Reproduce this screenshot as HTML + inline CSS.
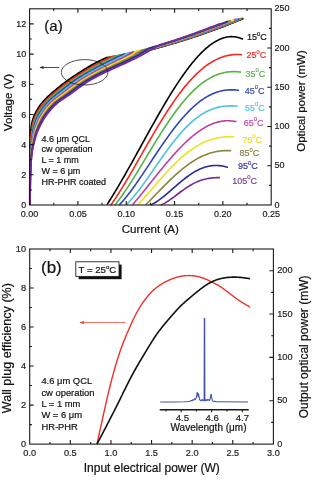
<!DOCTYPE html>
<html><head><meta charset="utf-8"><style>
html,body{margin:0;padding:0;background:#fff;width:320px;height:482px;overflow:hidden}
svg{display:block;position:absolute;left:0;top:0;will-change:transform}
text{font-family:"Liberation Sans",sans-serif}
</style></head><body>
<svg width="320" height="482" viewBox="0 0 320 482">
<rect width="320" height="482" fill="#fff"/>
<g font-size="9" fill="#222" stroke="#222" stroke-width="0.2">
<text x="29.6" y="216.8" text-anchor="middle">0.00</text>
<text x="77.92" y="216.8" text-anchor="middle">0.05</text>
<text x="126.24" y="216.8" text-anchor="middle">0.10</text>
<text x="174.56" y="216.8" text-anchor="middle">0.15</text>
<text x="222.88" y="216.8" text-anchor="middle">0.20</text>
<text x="271.2" y="216.8" text-anchor="middle">0.25</text>
<text x="26.2" y="208.2" text-anchor="end">0</text>
<text x="26.2" y="178.02" text-anchor="end">2</text>
<text x="26.2" y="147.83" text-anchor="end">4</text>
<text x="26.2" y="117.65" text-anchor="end">6</text>
<text x="26.2" y="87.46" text-anchor="end">8</text>
<text x="26.2" y="57.28" text-anchor="end">10</text>
<text x="26.2" y="27.09" text-anchor="end">12</text>
<text x="274.6" y="207.6">0</text>
<text x="274.6" y="168.36">50</text>
<text x="274.6" y="129.12">100</text>
<text x="274.6" y="89.88">150</text>
<text x="274.6" y="50.64">200</text>
<text x="274.6" y="11.4">250</text>
</g>
<text x="150.3" y="233" font-size="11.6" text-anchor="middle" fill="#111" stroke="#111" stroke-width="0.2">Current (A)</text>
<text transform="translate(12.2,102.5) rotate(-90)" font-size="11.6" text-anchor="middle" fill="#111" stroke="#111" stroke-width="0.2">Voltage (V)</text>
<text transform="translate(305.2,101) rotate(-90)" font-size="11.5" text-anchor="middle" fill="#111" stroke="#111" stroke-width="0.2">Optical power (mW)</text>
<text x="44.3" y="31.2" font-size="15" fill="#111" stroke="#111" stroke-width="0.2">(a)</text>
<text x="41.4" y="141.5" font-size="9" fill="#111" stroke="#111" stroke-width="0.2">4.6 μm QCL</text>
<text x="41.4" y="152.35" font-size="9" fill="#111" stroke="#111" stroke-width="0.2">cw operation</text>
<text x="41.4" y="163.2" font-size="9" fill="#111" stroke="#111" stroke-width="0.2">L = 1 mm</text>
<text x="41.4" y="174.05" font-size="9" fill="#111" stroke="#111" stroke-width="0.2">W = 6 μm</text>
<text x="41.4" y="184.9" font-size="9" fill="#111" stroke="#111" stroke-width="0.2">HR-PHR coated</text>
<g fill="none" stroke-width="1.9" stroke-linejoin="round" stroke-linecap="butt">
<path stroke="#000000" d="M29.9,205 L29.9,203.83 L29.9,202.66 L29.9,201.49 L29.89,200.32 L29.89,199.15 L29.89,197.98 L29.89,196.82 L29.89,195.65 L29.89,194.48 L29.89,193.31 L29.89,192.14 L29.89,190.97 L29.89,189.8 L29.89,188.63 L29.89,187.46 L29.89,186.29 L29.89,185.12 L29.9,183.95 L29.9,182.78 L29.9,181.61 L29.9,180.45 L29.91,179.28 L29.91,178.11 L29.92,176.94 L29.92,175.77 L29.93,174.6 L29.93,173.43 L29.94,172.26 L29.95,171.09 L29.96,169.92 L29.97,168.75 L29.98,167.58 L29.99,166.41 L30,165.24 L30.01,164.08 L30.02,162.91 L30.04,161.74 L30.05,160.57 L30.06,159.4 L30.08,158.23 L30.1,157.06 L30.11,155.89 L30.13,154.72 L30.15,153.55 L30.17,152.38 L30.19,151.21 L30.21,150.04 L30.23,148.88 L30.25,147.71 L30.27,146.54 L30.29,145.37 L30.31,144.2 L30.34,143.03 L30.36,141.86 L30.39,140.69 L30.42,139.52 L30.46,138.35 L30.5,137.18 L30.55,136.01 L30.61,134.84 L30.68,133.67 L30.76,132.51 L30.85,131.34 L30.95,130.17 L31.06,129 L31.2,127.83 L31.35,126.66 L31.53,125.49 L31.74,124.32 L31.98,123.15 L32.25,121.98 L32.55,120.81 L32.89,119.64 L33.26,118.47 L33.68,117.31 L34.13,116.14 L34.62,114.97 L35.16,113.8 L35.73,112.63 L36.35,111.46 L37,110.29 L37.7,109.12 L38.44,107.95 L39.22,106.78 L40.04,105.61 L40.91,104.44 L41.81,103.27 L42.77,102.1 L43.77,100.94 L44.83,99.77 L45.95,98.6 L47.13,97.43 L48.36,96.26 L49.65,95.09 L50.97,93.92 L52.32,92.75 L53.7,91.58 L55.09,90.41 L56.49,89.24 L57.91,88.07 L59.34,86.9 L60.8,85.73 L62.27,84.57 L63.78,83.4 L65.33,82.23 L66.93,81.06 L68.57,79.89 L70.26,78.72 L71.97,77.55 L73.72,76.38 L75.49,75.21 L77.27,74.04 L79.06,72.87 L80.87,71.7 L82.69,70.53 L84.55,69.37 L86.45,68.2 L88.4,67.03 L90.42,65.86 L92.51,64.69 L94.67,63.52 L96.9,62.35 L99.18,61.18 L101.52,60.01 L103.9,58.84 L106.33,57.81 L109.13,57.4 L111.93,56.98 L114.72,56.55 L117.52,56.1 L120.32,55.64 L123.12,55.17 L125.92,54.69 L128.72,54.19 L131.52,53.68 L134.32,53.16 L137.12,52.63 L139.92,52.08 L142.72,51.53 L145.52,50.93 L148.32,50.23 L151.12,49.52 L153.92,48.79 L156.72,48.05 L159.52,47.29 L162.32,46.52 L165.12,45.74 L167.91,44.95 L170.71,44.14 L173.51,43.32 L176.31,42.49 L179.11,41.64 L181.91,40.78 L184.71,39.91 L187.51,39.02 L190.31,38.12 L193.11,37.21 L195.91,36.28 L198.71,35.34 L201.51,34.39 L204.31,33.42 L207.11,32.43 L209.91,31.44 L212.71,30.43 L215.51,29.4 L218.3,28.36 L221.1,27.31 L223.9,26.25 L226.7,25.16 L229.5,24.07 L232.3,22.96 L235.1,21.84 L237.9,20.7 L240.7,19.55 L243.5,18.38"/>
<path stroke="#f8281e" d="M29.91,205 L29.91,203.83 L29.91,202.66 L29.91,201.49 L29.91,200.32 L29.91,199.15 L29.91,197.98 L29.91,196.82 L29.91,195.65 L29.91,194.48 L29.91,193.31 L29.91,192.14 L29.92,190.97 L29.92,189.8 L29.92,188.63 L29.92,187.46 L29.92,186.29 L29.93,185.12 L29.93,183.95 L29.94,182.78 L29.94,181.61 L29.95,180.45 L29.95,179.28 L29.96,178.11 L29.97,176.94 L29.98,175.77 L29.98,174.6 L29.99,173.43 L30,172.26 L30.02,171.09 L30.03,169.92 L30.04,168.75 L30.06,167.58 L30.07,166.41 L30.09,165.24 L30.11,164.08 L30.13,162.91 L30.15,161.74 L30.17,160.57 L30.2,159.4 L30.22,158.23 L30.25,157.06 L30.28,155.89 L30.31,154.72 L30.34,153.55 L30.37,152.38 L30.41,151.21 L30.45,150.04 L30.49,148.88 L30.54,147.71 L30.58,146.54 L30.63,145.37 L30.68,144.2 L30.74,143.03 L30.79,141.86 L30.85,140.69 L30.92,139.52 L30.98,138.35 L31.06,137.18 L31.14,136.01 L31.24,134.84 L31.34,133.67 L31.46,132.51 L31.58,131.34 L31.73,130.17 L31.89,129 L32.07,127.83 L32.27,126.66 L32.5,125.49 L32.75,124.32 L33.03,123.15 L33.34,121.98 L33.68,120.81 L34.05,119.64 L34.46,118.47 L34.92,117.31 L35.41,116.14 L35.94,114.97 L36.51,113.8 L37.12,112.63 L37.78,111.46 L38.47,110.29 L39.2,109.12 L39.97,107.95 L40.79,106.78 L41.65,105.61 L42.55,104.44 L43.51,103.27 L44.52,102.1 L45.58,100.94 L46.71,99.77 L47.89,98.6 L49.14,97.43 L50.43,96.26 L51.77,95.09 L53.13,93.92 L54.52,92.75 L55.91,91.58 L57.32,90.41 L58.75,89.24 L60.18,88.07 L61.64,86.9 L63.11,85.73 L64.6,84.57 L66.14,83.4 L67.71,82.23 L69.34,81.06 L71.01,79.89 L72.73,78.72 L74.49,77.55 L76.29,76.38 L78.11,75.21 L79.96,74.04 L81.82,72.87 L83.69,71.7 L85.59,70.53 L87.53,69.37 L89.51,68.2 L91.53,67.03 L93.61,65.86 L95.76,64.69 L97.97,63.52 L100.23,62.35 L102.54,61.18 L104.89,60.01 L107.28,58.84 L109.69,57.67 L112.12,56.73 L114.79,56.32 L117.45,55.89 L120.11,55.46 L122.77,55.01 L125.43,54.55 L128.09,54.08 L130.75,53.61 L133.41,53.11 L136.07,52.61 L138.73,52.1 L141.39,51.57 L144.05,51.04 L146.71,50.42 L149.37,49.74 L152.04,49.05 L154.7,48.35 L157.36,47.63 L160.02,46.9 L162.68,46.16 L165.34,45.41 L168,44.65 L170.66,43.87 L173.32,43.08 L175.98,42.28 L178.64,41.47 L181.3,40.65 L183.96,39.81 L186.62,38.96 L189.29,38.1 L191.95,37.23 L194.61,36.35 L197.27,35.45 L199.93,34.54 L202.59,33.62 L205.25,32.68 L207.91,31.74 L210.57,30.78 L213.23,29.82 L215.89,28.84 L218.55,27.85 L221.21,26.85 L223.87,25.84 L226.54,24.81 L229.2,23.77 L231.86,22.72 L234.52,21.65 L237.18,20.57 L239.84,19.48 L242.5,18.38"/>
<path stroke="#52b545" d="M29.92,205 L29.92,203.83 L29.92,202.66 L29.92,201.49 L29.93,200.32 L29.93,199.15 L29.93,197.98 L29.93,196.82 L29.93,195.65 L29.93,194.48 L29.94,193.31 L29.94,192.14 L29.94,190.97 L29.94,189.8 L29.95,188.63 L29.95,187.46 L29.96,186.29 L29.96,185.12 L29.97,183.95 L29.98,182.78 L29.98,181.61 L29.99,180.45 L30,179.28 L30.01,178.11 L30.02,176.94 L30.03,175.77 L30.04,174.6 L30.05,173.43 L30.07,172.26 L30.08,171.09 L30.1,169.92 L30.12,168.75 L30.14,167.58 L30.16,166.41 L30.18,165.24 L30.21,164.08 L30.24,162.91 L30.26,161.74 L30.29,160.57 L30.33,159.4 L30.36,158.23 L30.4,157.06 L30.44,155.89 L30.48,154.72 L30.53,153.55 L30.58,152.38 L30.63,151.21 L30.69,150.04 L30.76,148.88 L30.83,147.71 L30.9,146.54 L30.97,145.37 L31.05,144.2 L31.14,143.03 L31.22,141.86 L31.31,140.69 L31.41,139.52 L31.51,138.35 L31.62,137.18 L31.73,136.01 L31.86,134.84 L32,133.67 L32.15,132.51 L32.32,131.34 L32.51,130.17 L32.72,129 L32.95,127.83 L33.19,126.66 L33.46,125.49 L33.76,124.32 L34.08,123.15 L34.42,121.98 L34.8,120.81 L35.22,119.64 L35.67,118.47 L36.15,117.31 L36.68,116.14 L37.25,114.97 L37.87,113.8 L38.52,112.63 L39.21,111.46 L39.94,110.29 L40.7,109.12 L41.51,107.95 L42.36,106.78 L43.25,105.61 L44.2,104.44 L45.2,103.27 L46.27,102.1 L47.39,100.94 L48.59,99.77 L49.84,98.6 L51.15,97.43 L52.5,96.26 L53.89,95.09 L55.29,93.92 L56.71,92.75 L58.13,91.58 L59.56,90.41 L61,89.24 L62.46,88.07 L63.93,86.9 L65.42,85.73 L66.94,84.57 L68.49,83.4 L70.09,82.23 L71.74,81.06 L73.45,79.89 L75.21,78.72 L77.02,77.55 L78.86,76.38 L80.74,75.21 L82.64,74.04 L84.57,72.87 L86.52,71.7 L88.5,70.53 L90.51,69.37 L92.56,68.2 L94.66,67.03 L96.81,65.86 L99.01,64.69 L101.26,63.52 L103.56,62.35 L105.9,61.18 L108.26,60.01 L110.65,58.84 L113.06,57.67 L115.47,56.5 L117.08,55.73 L119.61,55.32 L122.14,54.9 L124.68,54.46 L127.21,54.02 L129.74,53.57 L132.27,53.11 L134.81,52.63 L137.34,52.15 L139.87,51.65 L142.41,51.15 L144.94,50.63 L147.47,50 L150.01,49.36 L152.54,48.69 L155.07,48.01 L157.61,47.32 L160.14,46.61 L162.67,45.9 L165.21,45.18 L167.74,44.44 L170.27,43.7 L172.8,42.94 L175.34,42.17 L177.87,41.39 L180.4,40.61 L182.94,39.81 L185.47,38.99 L188,38.17 L190.54,37.34 L193.07,36.5 L195.6,35.64 L198.14,34.77 L200.67,33.9 L203.2,33.01 L205.74,32.11 L208.27,31.19 L210.8,30.28 L213.34,29.36 L215.87,28.43 L218.4,27.49 L220.93,26.54 L223.47,25.57 L226,24.6 L228.53,23.61 L231.07,22.61 L233.6,21.6 L236.13,20.58 L238.67,19.54 L241.2,18.5"/>
<path stroke="#3146b2" d="M29.93,205 L29.94,203.83 L29.94,202.66 L29.94,201.49 L29.94,200.32 L29.94,199.15 L29.95,197.98 L29.95,196.82 L29.95,195.65 L29.96,194.48 L29.96,193.31 L29.96,192.14 L29.97,190.97 L29.97,189.8 L29.98,188.63 L29.98,187.46 L29.99,186.29 L30,185.12 L30.01,183.95 L30.01,182.78 L30.02,181.61 L30.03,180.45 L30.04,179.28 L30.06,178.11 L30.07,176.94 L30.08,175.77 L30.1,174.6 L30.11,173.43 L30.13,172.26 L30.15,171.09 L30.17,169.92 L30.2,168.75 L30.22,167.58 L30.25,166.41 L30.28,165.24 L30.31,164.08 L30.34,162.91 L30.38,161.74 L30.42,160.57 L30.46,159.4 L30.5,158.23 L30.55,157.06 L30.6,155.89 L30.66,154.72 L30.72,153.55 L30.79,152.38 L30.86,151.21 L30.94,150.04 L31.02,148.88 L31.12,147.71 L31.21,146.54 L31.32,145.37 L31.43,144.2 L31.54,143.03 L31.65,141.86 L31.78,140.69 L31.9,139.52 L32.03,138.35 L32.17,137.18 L32.32,136.01 L32.48,134.84 L32.66,133.67 L32.85,132.51 L33.06,131.34 L33.29,130.17 L33.55,129 L33.82,127.83 L34.11,126.66 L34.43,125.49 L34.77,124.32 L35.13,123.15 L35.51,121.98 L35.93,120.81 L36.38,119.64 L36.87,118.47 L37.39,117.31 L37.96,116.14 L38.57,114.97 L39.22,113.8 L39.91,112.63 L40.64,111.46 L41.4,110.29 L42.2,109.12 L43.04,107.95 L43.93,106.78 L44.86,105.61 L45.85,104.44 L46.9,103.27 L48.01,102.1 L49.21,100.94 L50.47,99.77 L51.79,98.6 L53.16,97.43 L54.57,96.26 L56.01,95.09 L57.45,93.92 L58.9,92.75 L60.35,91.58 L61.8,90.41 L63.26,89.24 L64.73,88.07 L66.22,86.9 L67.73,85.73 L69.27,84.57 L70.85,83.4 L72.47,82.23 L74.15,81.06 L75.89,79.89 L77.69,78.72 L79.54,77.55 L81.43,76.38 L83.36,75.21 L85.33,74.04 L87.32,72.87 L89.34,71.7 L91.4,70.53 L93.49,69.37 L95.62,68.2 L97.79,67.03 L100,65.86 L102.26,64.69 L104.56,63.52 L106.9,62.35 L109.26,61.18 L111.64,60.01 L114.03,58.84 L116.42,57.67 L118.81,56.5 L121.19,55.33 L122.17,54.67 L124.55,54.27 L126.93,53.85 L129.32,53.42 L131.7,52.99 L134.09,52.55 L136.47,52.1 L138.86,51.63 L141.24,51.16 L143.62,50.68 L146.01,50.15 L148.39,49.55 L150.78,48.94 L153.16,48.29 L155.55,47.64 L157.93,46.98 L160.32,46.31 L162.7,45.63 L165.08,44.94 L167.47,44.24 L169.85,43.53 L172.24,42.82 L174.62,42.09 L177.01,41.35 L179.39,40.61 L181.77,39.85 L184.16,39.08 L186.54,38.31 L188.93,37.52 L191.31,36.72 L193.7,35.92 L196.08,35.1 L198.47,34.28 L200.85,33.44 L203.23,32.6 L205.62,31.74 L208,30.88 L210.39,30.01 L212.77,29.14 L215.16,28.27 L217.54,27.39 L219.92,26.5 L222.31,25.59 L224.69,24.68 L227.08,23.76 L229.46,22.82 L231.85,21.88 L234.23,20.93 L236.62,19.96 L239,18.99"/>
<path stroke="#4cc2de" d="M29.94,205 L29.95,203.83 L29.95,202.66 L29.95,201.49 L29.96,200.32 L29.96,199.15 L29.96,197.98 L29.97,196.82 L29.97,195.65 L29.98,194.48 L29.98,193.31 L29.99,192.14 L29.99,190.97 L30,189.8 L30.01,188.63 L30.01,187.46 L30.02,186.29 L30.03,185.12 L30.04,183.95 L30.05,182.78 L30.06,181.61 L30.08,180.45 L30.09,179.28 L30.1,178.11 L30.12,176.94 L30.14,175.77 L30.15,174.6 L30.17,173.43 L30.19,172.26 L30.22,171.09 L30.24,169.92 L30.27,168.75 L30.3,167.58 L30.33,166.41 L30.37,165.24 L30.41,164.08 L30.45,162.91 L30.49,161.74 L30.54,160.57 L30.59,159.4 L30.64,158.23 L30.7,157.06 L30.77,155.89 L30.83,154.72 L30.91,153.55 L30.99,152.38 L31.08,151.21 L31.18,150.04 L31.29,148.88 L31.41,147.71 L31.53,146.54 L31.66,145.37 L31.8,144.2 L31.94,143.03 L32.08,141.86 L32.24,140.69 L32.39,139.52 L32.56,138.35 L32.73,137.18 L32.91,136.01 L33.1,134.84 L33.32,133.67 L33.55,132.51 L33.8,131.34 L34.08,130.17 L34.37,129 L34.69,127.83 L35.03,126.66 L35.39,125.49 L35.77,124.32 L36.17,123.15 L36.6,121.98 L37.06,120.81 L37.55,119.64 L38.07,118.47 L38.63,117.31 L39.24,116.14 L39.89,114.97 L40.57,113.8 L41.3,112.63 L42.07,111.46 L42.87,110.29 L43.7,109.12 L44.57,107.95 L45.49,106.78 L46.47,105.61 L47.5,104.44 L48.59,103.27 L49.76,102.1 L51.02,100.94 L52.34,99.77 L53.73,98.6 L55.17,97.43 L56.64,96.26 L58.13,95.09 L59.61,93.92 L61.09,92.75 L62.56,91.58 L64.04,90.41 L65.51,89.24 L67,88.07 L68.51,86.9 L70.04,85.73 L71.6,84.57 L73.2,83.4 L74.85,82.23 L76.56,81.06 L78.33,79.89 L80.17,78.72 L82.06,77.55 L84,76.38 L85.99,75.21 L88.02,74.04 L90.08,72.87 L92.17,71.7 L94.3,70.53 L96.47,69.37 L98.67,68.2 L100.92,67.03 L103.2,65.86 L105.51,64.69 L107.86,63.52 L110.23,62.35 L112.62,61.18 L115.01,60.01 L117.4,58.84 L119.79,57.67 L122.16,56.5 L124.5,55.33 L125.87,54.16 L126.49,53.71 L128.75,53.31 L131.02,52.9 L133.28,52.48 L135.55,52.05 L137.81,51.62 L140.08,51.17 L142.35,50.72 L144.61,50.26 L146.88,49.71 L149.14,49.14 L151.41,48.54 L153.67,47.92 L155.94,47.29 L158.2,46.66 L160.47,46.01 L162.74,45.36 L165,44.7 L167.27,44.02 L169.53,43.35 L171.8,42.66 L174.06,41.96 L176.33,41.25 L178.59,40.54 L180.86,39.82 L183.13,39.09 L185.39,38.34 L187.66,37.59 L189.92,36.84 L192.19,36.07 L194.45,35.29 L196.72,34.51 L198.99,33.71 L201.25,32.91 L203.52,32.1 L205.78,31.28 L208.05,30.45 L210.31,29.61 L212.58,28.79 L214.84,27.97 L217.11,27.13 L219.38,26.28 L221.64,25.43 L223.91,24.56 L226.17,23.69 L228.44,22.81 L230.7,21.92 L232.97,21.01 L235.23,20.1 L237.5,19.18"/>
<path stroke="#bb3ea6" d="M29.96,205 L29.96,203.83 L29.96,202.66 L29.97,201.49 L29.97,200.32 L29.98,199.15 L29.98,197.98 L29.99,196.82 L29.99,195.65 L30,194.48 L30.01,193.31 L30.01,192.14 L30.02,190.97 L30.03,189.8 L30.04,188.63 L30.05,187.46 L30.06,186.29 L30.07,185.12 L30.08,183.95 L30.09,182.78 L30.1,181.61 L30.12,180.45 L30.13,179.28 L30.15,178.11 L30.17,176.94 L30.19,175.77 L30.21,174.6 L30.23,173.43 L30.26,172.26 L30.29,171.09 L30.32,169.92 L30.35,168.75 L30.38,167.58 L30.42,166.41 L30.46,165.24 L30.51,164.08 L30.55,162.91 L30.61,161.74 L30.66,160.57 L30.72,159.4 L30.78,158.23 L30.85,157.06 L30.93,155.89 L31.01,154.72 L31.1,153.55 L31.2,152.38 L31.31,151.21 L31.43,150.04 L31.56,148.88 L31.7,147.71 L31.84,146.54 L32,145.37 L32.17,144.2 L32.34,143.03 L32.52,141.86 L32.7,140.69 L32.89,139.52 L33.08,138.35 L33.28,137.18 L33.5,136.01 L33.73,134.84 L33.98,133.67 L34.25,132.51 L34.54,131.34 L34.86,130.17 L35.2,129 L35.57,127.83 L35.95,126.66 L36.36,125.49 L36.78,124.32 L37.22,123.15 L37.69,121.98 L38.18,120.81 L38.71,119.64 L39.27,118.47 L39.87,117.31 L40.51,116.14 L41.2,114.97 L41.93,113.8 L42.69,112.63 L43.5,111.46 L44.33,110.29 L45.2,109.12 L46.11,107.95 L47.06,106.78 L48.07,105.61 L49.14,104.44 L50.29,103.27 L51.51,102.1 L52.83,100.94 L54.22,99.77 L55.68,98.6 L57.18,97.43 L58.71,96.26 L60.25,95.09 L61.77,93.92 L63.28,92.75 L64.78,91.58 L66.27,90.41 L67.77,89.24 L69.28,88.07 L70.8,86.9 L72.35,85.73 L73.93,84.57 L75.55,83.4 L77.23,82.23 L78.97,81.06 L80.77,79.89 L82.65,78.72 L84.58,77.55 L86.57,76.38 L88.61,75.21 L90.7,74.04 L92.83,72.87 L95,71.7 L97.2,70.53 L99.45,69.37 L101.73,68.2 L104.04,67.03 L106.39,65.86 L108.76,64.69 L111.16,63.52 L113.56,62.35 L115.97,61.18 L118.38,60.01 L120.78,58.84 L123.15,57.67 L125.5,56.5 L127.82,55.33 L129.33,54.16 L130.49,53 L130.87,52.7 L133.03,52.3 L135.19,51.9 L137.34,51.49 L139.5,51.07 L141.65,50.64 L143.81,50.21 L145.96,49.72 L148.12,49.18 L150.28,48.63 L152.43,48.03 L154.59,47.43 L156.74,46.83 L158.9,46.21 L161.05,45.59 L163.21,44.96 L165.36,44.32 L167.52,43.67 L169.68,43.02 L171.83,42.35 L173.99,41.68 L176.14,41.01 L178.3,40.32 L180.45,39.63 L182.61,38.92 L184.77,38.21 L186.92,37.5 L189.08,36.77 L191.23,36.04 L193.39,35.29 L195.54,34.54 L197.7,33.79 L199.85,33.02 L202.01,32.25 L204.17,31.46 L206.32,30.67 L208.48,29.87 L210.63,29.08 L212.79,28.3 L214.94,27.51 L217.1,26.71 L219.26,25.91 L221.41,25.1 L223.57,24.27 L225.72,23.44 L227.88,22.61 L230.03,21.76 L232.19,20.9 L234.34,20.04 L236.5,19.17"/>
<path stroke="#f0e01e" d="M29.97,205 L29.97,203.83 L29.98,202.66 L29.98,201.49 L29.99,200.32 L29.99,199.15 L30,197.98 L30.01,196.82 L30.01,195.65 L30.02,194.48 L30.03,193.31 L30.04,192.14 L30.05,190.97 L30.05,189.8 L30.07,188.63 L30.08,187.46 L30.09,186.29 L30.1,185.12 L30.11,183.95 L30.13,182.78 L30.14,181.61 L30.16,180.45 L30.18,179.28 L30.2,178.11 L30.22,176.94 L30.24,175.77 L30.27,174.6 L30.29,173.43 L30.32,172.26 L30.35,171.09 L30.39,169.92 L30.42,168.75 L30.46,167.58 L30.51,166.41 L30.56,165.24 L30.61,164.08 L30.66,162.91 L30.72,161.74 L30.78,160.57 L30.85,159.4 L30.93,158.23 L31,157.06 L31.09,155.89 L31.19,154.72 L31.29,153.55 L31.41,152.38 L31.53,151.21 L31.67,150.04 L31.82,148.88 L31.99,147.71 L32.16,146.54 L32.34,145.37 L32.54,144.2 L32.74,143.03 L32.95,141.86 L33.16,140.69 L33.38,139.52 L33.6,138.35 L33.84,137.18 L34.09,136.01 L34.35,134.84 L34.64,133.67 L34.94,132.51 L35.28,131.34 L35.64,130.17 L36.03,129 L36.44,127.83 L36.87,126.66 L37.32,125.49 L37.79,124.32 L38.27,123.15 L38.78,121.98 L39.31,120.81 L39.87,119.64 L40.47,118.47 L41.11,117.31 L41.79,116.14 L42.52,114.97 L43.28,113.8 L44.09,112.63 L44.93,111.46 L45.8,110.29 L46.7,109.12 L47.64,107.95 L48.63,106.78 L49.68,105.61 L50.79,104.44 L51.98,103.27 L53.26,102.1 L54.64,100.94 L56.1,99.77 L57.62,98.6 L59.19,97.43 L60.78,96.26 L62.37,95.09 L63.93,93.92 L65.47,92.75 L67,91.58 L68.51,90.41 L70.03,89.24 L71.55,88.07 L73.09,86.9 L74.66,85.73 L76.26,84.57 L77.91,83.4 L79.61,82.23 L81.38,81.06 L83.21,79.89 L85.12,78.72 L87.1,77.55 L89.14,76.38 L91.24,75.21 L93.39,74.04 L95.58,72.87 L97.82,71.7 L100.11,70.53 L102.43,69.37 L104.78,68.2 L107.17,67.03 L109.58,65.86 L112.01,64.69 L114.45,63.52 L116.9,62.35 L119.33,61.18 L121.75,60.01 L124.15,58.84 L126.52,57.67 L128.85,56.5 L131.13,55.33 L132.8,54.16 L134.19,53 L135.56,51.83 L136.02,51.52 L138.02,51.14 L140.02,50.75 L142.02,50.35 L144.02,49.94 L146.01,49.49 L148.01,48.99 L150.01,48.48 L152.01,47.92 L154.01,47.36 L156.01,46.79 L158.01,46.22 L160.01,45.64 L162.01,45.05 L164.01,44.45 L166.01,43.85 L168.01,43.24 L170.01,42.63 L172.01,42.01 L174.01,41.38 L176.01,40.74 L178.01,40.1 L180.01,39.45 L182.01,38.79 L184.01,38.13 L186.01,37.46 L188.01,36.78 L190.01,36.1 L192.01,35.41 L194.01,34.71 L196.01,34.01 L198.01,33.3 L200.01,32.58 L202.01,31.85 L204.01,31.12 L206,30.38 L208,29.64 L210,28.88 L212,28.16 L214,27.43 L216,26.7 L218,25.96 L220,25.21 L222,24.45 L224,23.69 L226,22.92 L228,22.14 L230,21.35 L232,20.56 L234,19.76"/>
<path stroke="#86863c" d="M29.98,205 L29.98,203.83 L29.99,202.66 L30,201.49 L30,200.32 L30.01,199.15 L30.02,197.98 L30.03,196.82 L30.03,195.65 L30.04,194.48 L30.05,193.31 L30.06,192.14 L30.07,190.97 L30.08,189.8 L30.09,188.63 L30.11,187.46 L30.12,186.29 L30.14,185.12 L30.15,183.95 L30.17,182.78 L30.19,181.61 L30.2,180.45 L30.22,179.28 L30.25,178.11 L30.27,176.94 L30.29,175.77 L30.32,174.6 L30.35,173.43 L30.38,172.26 L30.42,171.09 L30.46,169.92 L30.5,168.75 L30.55,167.58 L30.59,166.41 L30.65,165.24 L30.71,164.08 L30.77,162.91 L30.83,161.74 L30.91,160.57 L30.98,159.4 L31.07,158.23 L31.16,157.06 L31.25,155.89 L31.36,154.72 L31.48,153.55 L31.61,152.38 L31.76,151.21 L31.91,150.04 L32.09,148.88 L32.28,147.71 L32.48,146.54 L32.69,145.37 L32.91,144.2 L33.14,143.03 L33.38,141.86 L33.62,140.69 L33.87,139.52 L34.13,138.35 L34.39,137.18 L34.67,136.01 L34.97,134.84 L35.29,133.67 L35.64,132.51 L36.02,131.34 L36.43,130.17 L36.86,129 L37.32,127.83 L37.79,126.66 L38.29,125.49 L38.8,124.32 L39.32,123.15 L39.87,121.98 L40.44,120.81 L41.04,119.64 L41.67,118.47 L42.35,117.31 L43.07,116.14 L43.83,114.97 L44.64,113.8 L45.48,112.63 L46.35,111.46 L47.26,110.29 L48.2,109.12 L49.18,107.95 L50.2,106.78 L51.28,105.61 L52.44,104.44 L53.68,103.27 L55.01,102.1 L56.45,100.94 L57.98,99.77 L59.57,98.6 L61.2,97.43 L62.85,96.26 L64.49,95.09 L66.09,93.92 L67.66,92.75 L69.21,91.58 L70.75,90.41 L72.28,89.24 L73.82,88.07 L75.38,86.9 L76.97,85.73 L78.59,84.57 L80.26,83.4 L81.99,82.23 L83.79,81.06 L85.65,79.89 L87.6,78.72 L89.62,77.55 L91.71,76.38 L93.86,75.21 L96.07,74.04 L98.34,72.87 L100.65,71.7 L103.01,70.53 L105.41,69.37 L107.84,68.2 L110.3,67.03 L112.78,65.86 L115.26,64.69 L117.75,63.52 L120.23,62.35 L122.69,61.18 L125.13,60.01 L127.53,58.84 L129.88,57.67 L132.19,56.5 L134.44,55.33 L136.27,54.16 L137.89,53 L139.49,51.83 L141.08,50.66 L142.14,50.1 L143.95,49.74 L145.76,49.33 L147.58,48.88 L149.39,48.42 L151.2,47.93 L153.02,47.41 L154.83,46.89 L156.64,46.37 L158.46,45.84 L160.27,45.31 L162.08,44.77 L163.9,44.22 L165.71,43.67 L167.53,43.11 L169.34,42.55 L171.15,41.98 L172.97,41.41 L174.78,40.83 L176.59,40.25 L178.41,39.66 L180.22,39.06 L182.03,38.46 L183.85,37.85 L185.66,37.24 L187.47,36.62 L189.29,36 L191.1,35.37 L192.92,34.73 L194.73,34.09 L196.54,33.44 L198.36,32.79 L200.17,32.13 L201.98,31.47 L203.8,30.8 L205.61,30.12 L207.42,29.44 L209.24,28.75 L211.05,28.09 L212.86,27.43 L214.68,26.77 L216.49,26.1 L218.31,25.42 L220.12,24.74 L221.93,24.06 L223.75,23.37 L225.56,22.67 L227.37,21.96 L229.19,21.25 L231,20.54"/>
<path stroke="#2c2c98" d="M29.99,205 L30,203.83 L30,202.66 L30.01,201.49 L30.02,200.32 L30.03,199.15 L30.04,197.98 L30.04,196.82 L30.05,195.65 L30.06,194.48 L30.07,193.31 L30.09,192.14 L30.1,190.97 L30.11,189.8 L30.12,188.63 L30.14,187.46 L30.15,186.29 L30.17,185.12 L30.19,183.95 L30.21,182.78 L30.23,181.61 L30.25,180.45 L30.27,179.28 L30.29,178.11 L30.32,176.94 L30.35,175.77 L30.38,174.6 L30.41,173.43 L30.45,172.26 L30.49,171.09 L30.53,169.92 L30.58,168.75 L30.63,167.58 L30.68,166.41 L30.74,165.24 L30.8,164.08 L30.87,162.91 L30.95,161.74 L31.03,160.57 L31.11,159.4 L31.21,158.23 L31.31,157.06 L31.42,155.89 L31.54,154.72 L31.67,153.55 L31.82,152.38 L31.98,151.21 L32.16,150.04 L32.35,148.88 L32.56,147.71 L32.79,146.54 L33.03,145.37 L33.28,144.2 L33.54,143.03 L33.81,141.86 L34.08,140.69 L34.36,139.52 L34.65,138.35 L34.95,137.18 L35.26,136.01 L35.6,134.84 L35.95,133.67 L36.34,132.51 L36.76,131.34 L37.21,130.17 L37.69,129 L38.19,127.83 L38.71,126.66 L39.25,125.49 L39.81,124.32 L40.37,123.15 L40.96,121.98 L41.56,120.81 L42.2,119.64 L42.88,118.47 L43.59,117.31 L44.35,116.14 L45.15,114.97 L45.99,113.8 L46.87,112.63 L47.78,111.46 L48.73,110.29 L49.7,109.12 L50.71,107.95 L51.77,106.78 L52.89,105.61 L54.09,104.44 L55.37,103.27 L56.76,102.1 L58.26,100.94 L59.86,99.77 L61.52,98.6 L63.21,97.43 L64.92,96.26 L66.61,95.09 L68.25,93.92 L69.86,92.75 L71.43,91.58 L72.99,90.41 L74.54,89.24 L76.1,88.07 L77.67,86.9 L79.28,85.73 L80.92,84.57 L82.62,83.4 L84.37,82.23 L86.19,81.06 L88.1,79.89 L90.08,78.72 L92.14,77.55 L94.28,76.38 L96.49,75.21 L98.76,74.04 L101.09,72.87 L103.48,71.7 L105.91,70.53 L108.39,69.37 L110.9,68.2 L113.43,67.03 L115.97,65.86 L118.51,64.69 L121.05,63.52 L123.56,62.35 L126.05,61.18 L128.5,60.01 L130.9,58.84 L133.25,57.67 L135.53,56.5 L137.76,55.33 L139.73,54.16 L141.59,53 L143.42,51.83 L145.23,50.66 L147.05,49.49 L148.87,48.33 L150.49,47.9 L152.1,47.44 L153.72,46.98 L155.33,46.51 L156.95,46.04 L158.56,45.56 L160.18,45.08 L161.79,44.59 L163.41,44.1 L165.02,43.61 L166.64,43.11 L168.25,42.61 L169.87,42.1 L171.48,41.59 L173.1,41.07 L174.71,40.55 L176.33,40.02 L177.94,39.49 L179.55,38.96 L181.17,38.42 L182.78,37.88 L184.4,37.33 L186.01,36.78 L187.63,36.22 L189.24,35.66 L190.86,35.1 L192.47,34.53 L194.09,33.95 L195.7,33.37 L197.32,32.79 L198.93,32.2 L200.55,31.61 L202.16,31.01 L203.78,30.41 L205.39,29.8 L207.01,29.19 L208.62,28.57 L210.24,27.96 L211.85,27.38 L213.47,26.79 L215.08,26.2 L216.7,25.6 L218.31,25 L219.93,24.4 L221.54,23.79 L223.16,23.17 L224.77,22.55 L226.39,21.93 L228,21.3"/>
<path stroke="#7a2a98" d="M30,205 L30.01,203.83 L30.02,202.66 L30.03,201.49 L30.03,200.32 L30.04,199.15 L30.05,197.98 L30.06,196.82 L30.07,195.65 L30.09,194.48 L30.1,193.31 L30.11,192.14 L30.12,190.97 L30.14,189.8 L30.15,188.63 L30.17,187.46 L30.19,186.29 L30.2,185.12 L30.22,183.95 L30.24,182.78 L30.27,181.61 L30.29,180.45 L30.31,179.28 L30.34,178.11 L30.37,176.94 L30.4,175.77 L30.43,174.6 L30.47,173.43 L30.51,172.26 L30.55,171.09 L30.6,169.92 L30.65,168.75 L30.71,167.58 L30.77,166.41 L30.83,165.24 L30.9,164.08 L30.98,162.91 L31.06,161.74 L31.15,160.57 L31.25,159.4 L31.35,158.23 L31.46,157.06 L31.58,155.89 L31.72,154.72 L31.86,153.55 L32.03,152.38 L32.2,151.21 L32.4,150.04 L32.62,148.88 L32.85,147.71 L33.11,146.54 L33.37,145.37 L33.65,144.2 L33.94,143.03 L34.24,141.86 L34.55,140.69 L34.86,139.52 L35.18,138.35 L35.51,137.18 L35.85,136.01 L36.22,134.84 L36.61,133.67 L37.04,132.51 L37.5,131.34 L37.99,130.17 L38.51,129 L39.06,127.83 L39.63,126.66 L40.22,125.49 L40.81,124.32 L41.42,123.15 L42.04,121.98 L42.69,120.81 L43.37,119.64 L44.08,118.47 L44.83,117.31 L45.62,116.14 L46.46,114.97 L47.34,113.8 L48.26,112.63 L49.21,111.46 L50.19,110.29 L51.2,109.12 L52.24,107.95 L53.34,106.78 L54.49,105.61 L55.73,104.44 L57.07,103.27 L58.51,102.1 L60.07,100.94 L61.73,99.77 L63.46,98.6 L65.22,97.43 L66.99,96.26 L68.73,95.09 L70.41,93.92 L72.05,92.75 L73.65,91.58 L75.22,90.41 L76.79,89.24 L78.37,88.07 L79.96,86.9 L81.59,85.73 L83.25,84.57 L84.97,83.4 L86.75,82.23 L88.6,81.06 L90.54,79.89 L92.56,78.72 L94.66,77.55 L96.85,76.38 L99.11,75.21 L101.45,74.04 L103.84,72.87 L106.3,71.7 L108.81,70.53 L111.37,69.37 L113.95,68.2 L116.55,67.03 L119.16,65.86 L121.76,64.69 L124.35,63.52 L126.9,62.35 L129.41,61.18 L131.87,60.01 L134.28,58.84 L136.62,57.67 L138.88,56.5 L141.07,55.33 L143.2,54.16 L145.29,53 L147.34,51.83 L149.39,50.66 L151.43,49.49 L153.48,48.32 L155.57,47.15 L157.7,45.98 L159.92,44.9 L161.17,44.52 L162.42,44.14 L163.66,43.76 L164.91,43.37 L166.15,42.99 L167.4,42.59 L168.65,42.2 L169.89,41.8 L171.14,41.41 L172.39,41 L173.63,40.6 L174.88,40.19 L176.13,39.78 L177.37,39.37 L178.62,38.96 L179.87,38.54 L181.11,38.12 L182.36,37.69 L183.61,37.27 L184.85,36.84 L186.1,36.41 L187.34,35.98 L188.59,35.54 L189.84,35.1 L191.08,34.66 L192.33,34.22 L193.58,33.77 L194.82,33.32 L196.07,32.87 L197.32,32.41 L198.56,31.95 L199.81,31.49 L201.06,31.03 L202.3,30.56 L203.55,30.09 L204.8,29.62 L206.04,29.15 L207.29,28.67 L208.54,28.19 L209.78,27.71 L211.03,27.25 L212.27,26.8 L213.52,26.35 L214.77,25.89 L216.01,25.44 L217.26,24.97 L218.51,24.51 L219.75,24.04 L221,23.57"/>
</g>
<ellipse cx="84.6" cy="72.3" rx="23.3" ry="12.7" fill="none" stroke="#222" stroke-width="0.8"/>
<path d="M59.3,67.5 L42,67.5" stroke="#222" stroke-width="0.8"/>
<path d="M39.3,67.5 L43.5,65.9 L43.5,69.1 Z" fill="#222"/>
<g fill="none" stroke-width="1.6" stroke-linejoin="round">
<path stroke="#000000" d="M107,204.64 L108,203.09 L109,201.53 L110,199.95 L111,198.35 L112,196.74 L113,195.11 L114,193.48 L115,191.83 L116,190.16 L117,188.49 L118,186.8 L119,185.11 L120,183.4 L121,181.69 L122,179.96 L123,178.22 L124,176.48 L125,174.73 L126,172.97 L127,171.2 L128,169.43 L129,167.65 L130,165.87 L131,164.08 L132,162.29 L133,160.49 L134,158.68 L135,156.88 L136,155.07 L137,153.26 L138,151.45 L139,149.63 L140,147.82 L141,146 L142,144.19 L143,142.37 L144,140.56 L145,138.74 L146,136.93 L147,135.12 L148,133.32 L149,131.51 L150,129.71 L151,127.92 L152,126.12 L153,124.34 L154,122.56 L155,120.78 L156,119.01 L157,117.25 L158,115.5 L159,113.75 L160,112.01 L161,110.28 L162,108.56 L163,106.85 L164,105.14 L165,103.45 L166,101.77 L167,100.1 L168,98.44 L169,96.8 L170,95.16 L171,93.54 L172,91.94 L173,90.34 L174,88.76 L175,87.2 L176,85.65 L177,84.12 L178,82.6 L179,81.1 L180,79.62 L181,78.15 L182,76.71 L183,75.28 L184,73.87 L185,72.48 L186,71.1 L187,69.75 L188,68.42 L189,67.11 L190,65.82 L191,64.55 L192,63.31 L193,62.09 L194,60.89 L195,59.71 L196,58.56 L197,57.44 L198,56.33 L199,55.26 L200,54.2 L201,53.18 L202,52.18 L203,51.21 L204,50.26 L205,49.35 L206,48.46 L207,47.6 L208,46.77 L209,45.97 L210,45.2 L211,44.46 L212,43.75 L213,43.07 L214,42.42 L215,41.81 L216,41.22 L217,40.67 L218,40.16 L219,39.67 L220,39.23 L221,38.81 L222,38.43 L223,38.09 L224,37.78 L225,37.51 L226,37.27 L227,37.08 L228,36.92 L229,36.79 L230,36.71 L231,36.66 L232,36.66 L233,36.69 L234,36.76 L235,36.87 L236,37.03 L237,37.22 L238,37.46 L239,37.74 L240,38.06 L241,38.42 L242,38.83 L243,39.28"/>
<path stroke="#f8281e" d="M110.6,205.35 L111.6,203.94 L112.6,202.51 L113.6,201.05 L114.6,199.58 L115.6,198.08 L116.6,196.56 L117.6,195.02 L118.6,193.46 L119.6,191.88 L120.6,190.29 L121.6,188.68 L122.6,187.06 L123.6,185.42 L124.6,183.77 L125.6,182.11 L126.6,180.43 L127.6,178.75 L128.6,177.05 L129.6,175.35 L130.6,173.63 L131.6,171.91 L132.6,170.18 L133.6,168.45 L134.6,166.71 L135.6,164.96 L136.6,163.22 L137.6,161.47 L138.6,159.71 L139.6,157.96 L140.6,156.2 L141.6,154.45 L142.6,152.69 L143.6,150.94 L144.6,149.19 L145.6,147.44 L146.6,145.69 L147.6,143.95 L148.6,142.21 L149.6,140.48 L150.6,138.75 L151.6,137.03 L152.6,135.32 L153.6,133.61 L154.6,131.91 L155.6,130.22 L156.6,128.54 L157.6,126.87 L158.6,125.21 L159.6,123.56 L160.6,121.92 L161.6,120.29 L162.6,118.67 L163.6,117.07 L164.6,115.48 L165.6,113.91 L166.6,112.34 L167.6,110.8 L168.6,109.26 L169.6,107.75 L170.6,106.25 L171.6,104.76 L172.6,103.29 L173.6,101.84 L174.6,100.41 L175.6,98.99 L176.6,97.59 L177.6,96.22 L178.6,94.85 L179.6,93.51 L180.6,92.19 L181.6,90.89 L182.6,89.61 L183.6,88.34 L184.6,87.1 L185.6,85.88 L186.6,84.68 L187.6,83.5 L188.6,82.35 L189.6,81.21 L190.6,80.1 L191.6,79.01 L192.6,77.94 L193.6,76.9 L194.6,75.87 L195.6,74.87 L196.6,73.9 L197.6,72.94 L198.6,72.02 L199.6,71.11 L200.6,70.23 L201.6,69.37 L202.6,68.53 L203.6,67.72 L204.6,66.94 L205.6,66.18 L206.6,65.44 L207.6,64.72 L208.6,64.03 L209.6,63.37 L210.6,62.73 L211.6,62.11 L212.6,61.52 L213.6,60.95 L214.6,60.41 L215.6,59.89 L216.6,59.4 L217.6,58.93 L218.6,58.48 L219.6,58.06 L220.6,57.67 L221.6,57.29 L222.6,56.94 L223.6,56.62 L224.6,56.32 L225.6,56.04 L226.6,55.78 L227.6,55.55 L228.6,55.34 L229.6,55.16 L230.6,55 L231.6,54.86 L232.6,54.74 L233.6,54.65 L234.6,54.57 L235.6,54.52 L236.6,54.49 L237.6,54.48 L238.6,54.5 L239.6,54.53 L240.6,54.59 L241.6,54.66 L242,54.7"/>
<path stroke="#52b545" d="M114.8,205.14 L115.8,203.91 L116.8,202.65 L117.8,201.36 L118.8,200.04 L119.8,198.69 L120.8,197.32 L121.8,195.93 L122.8,194.51 L123.8,193.07 L124.8,191.61 L125.8,190.13 L126.8,188.64 L127.8,187.12 L128.8,185.59 L129.8,184.04 L130.8,182.48 L131.8,180.9 L132.8,179.31 L133.8,177.71 L134.8,176.1 L135.8,174.48 L136.8,172.85 L137.8,171.22 L138.8,169.57 L139.8,167.92 L140.8,166.27 L141.8,164.61 L142.8,162.95 L143.8,161.29 L144.8,159.63 L145.8,157.96 L146.8,156.3 L147.8,154.63 L148.8,152.97 L149.8,151.31 L150.8,149.65 L151.8,148 L152.8,146.36 L153.8,144.71 L154.8,143.08 L155.8,141.45 L156.8,139.83 L157.8,138.22 L158.8,136.62 L159.8,135.02 L160.8,133.44 L161.8,131.87 L162.8,130.31 L163.8,128.76 L164.8,127.22 L165.8,125.7 L166.8,124.19 L167.8,122.7 L168.8,121.22 L169.8,119.75 L170.8,118.31 L171.8,116.87 L172.8,115.46 L173.8,114.06 L174.8,112.68 L175.8,111.32 L176.8,109.98 L177.8,108.66 L178.8,107.35 L179.8,106.07 L180.8,104.8 L181.8,103.56 L182.8,102.34 L183.8,101.14 L184.8,99.96 L185.8,98.8 L186.8,97.66 L187.8,96.55 L188.8,95.46 L189.8,94.39 L190.8,93.35 L191.8,92.33 L192.8,91.33 L193.8,90.36 L194.8,89.41 L195.8,88.48 L196.8,87.58 L197.8,86.71 L198.8,85.85 L199.8,85.03 L200.8,84.23 L201.8,83.45 L202.8,82.7 L203.8,81.97 L204.8,81.27 L205.8,80.59 L206.8,79.94 L207.8,79.31 L208.8,78.71 L209.8,78.14 L210.8,77.59 L211.8,77.06 L212.8,76.56 L213.8,76.09 L214.8,75.63 L215.8,75.21 L216.8,74.81 L217.8,74.43 L218.8,74.08 L219.8,73.75 L220.8,73.45 L221.8,73.17 L222.8,72.92 L223.8,72.68 L224.8,72.48 L225.8,72.29 L226.8,72.13 L227.8,71.99 L228.8,71.87 L229.8,71.78 L230.8,71.71 L231.8,71.65 L232.8,71.62 L233.8,71.62 L234.8,71.63 L235.8,71.66 L236.8,71.71 L237.8,71.78 L238.8,71.87 L239.8,71.98 L240.8,72.11 L241,72.14"/>
<path stroke="#3146b2" d="M119.2,205.04 L120.2,203.98 L121.2,202.9 L122.2,201.78 L123.2,200.64 L124.2,199.46 L125.2,198.26 L126.2,197.04 L127.2,195.79 L128.2,194.51 L129.2,193.22 L130.2,191.9 L131.2,190.56 L132.2,189.21 L133.2,187.83 L134.2,186.44 L135.2,185.04 L136.2,183.62 L137.2,182.19 L138.2,180.74 L139.2,179.29 L140.2,177.82 L141.2,176.35 L142.2,174.86 L143.2,173.37 L144.2,171.88 L145.2,170.38 L146.2,168.87 L147.2,167.36 L148.2,165.85 L149.2,164.34 L150.2,162.82 L151.2,161.31 L152.2,159.8 L153.2,158.29 L154.2,156.78 L155.2,155.27 L156.2,153.77 L157.2,152.28 L158.2,150.79 L159.2,149.3 L160.2,147.83 L161.2,146.36 L162.2,144.9 L163.2,143.45 L164.2,142.01 L165.2,140.58 L166.2,139.16 L167.2,137.75 L168.2,136.36 L169.2,134.97 L170.2,133.61 L171.2,132.25 L172.2,130.91 L173.2,129.59 L174.2,128.28 L175.2,126.99 L176.2,125.72 L177.2,124.46 L178.2,123.22 L179.2,122 L180.2,120.8 L181.2,119.61 L182.2,118.45 L183.2,117.31 L184.2,116.18 L185.2,115.08 L186.2,114 L187.2,112.94 L188.2,111.9 L189.2,110.88 L190.2,109.88 L191.2,108.91 L192.2,107.96 L193.2,107.03 L194.2,106.13 L195.2,105.25 L196.2,104.39 L197.2,103.56 L198.2,102.75 L199.2,101.97 L200.2,101.21 L201.2,100.47 L202.2,99.76 L203.2,99.08 L204.2,98.41 L205.2,97.78 L206.2,97.17 L207.2,96.58 L208.2,96.02 L209.2,95.48 L210.2,94.97 L211.2,94.48 L212.2,94.02 L213.2,93.58 L214.2,93.17 L215.2,92.78 L216.2,92.42 L217.2,92.08 L218.2,91.76 L219.2,91.47 L220.2,91.21 L221.2,90.97 L222.2,90.75 L223.2,90.55 L224.2,90.38 L225.2,90.24 L226.2,90.11 L227.2,90.01 L228.2,89.93 L229.2,89.87 L230.2,89.84 L231.2,89.82 L232.2,89.83 L233.2,89.86 L234.2,89.91 L235.2,89.98 L236.2,90.07 L237.2,90.17 L238.2,90.3 L239,90.42"/>
<path stroke="#4cc2de" d="M125.8,204.99 L126.8,204.06 L127.8,203.08 L128.8,202.07 L129.8,201.02 L130.8,199.94 L131.8,198.83 L132.8,197.68 L133.8,196.51 L134.8,195.31 L135.8,194.08 L136.8,192.83 L137.8,191.56 L138.8,190.26 L139.8,188.95 L140.8,187.61 L141.8,186.26 L142.8,184.9 L143.8,183.52 L144.8,182.12 L145.8,180.72 L146.8,179.31 L147.8,177.88 L148.8,176.45 L149.8,175.02 L150.8,173.58 L151.8,172.13 L152.8,170.68 L153.8,169.23 L154.8,167.78 L155.8,166.33 L156.8,164.89 L157.8,163.44 L158.8,162 L159.8,160.56 L160.8,159.13 L161.8,157.71 L162.8,156.29 L163.8,154.88 L164.8,153.49 L165.8,152.1 L166.8,150.72 L167.8,149.36 L168.8,148.01 L169.8,146.67 L170.8,145.34 L171.8,144.03 L172.8,142.74 L173.8,141.46 L174.8,140.2 L175.8,138.96 L176.8,137.74 L177.8,136.53 L178.8,135.35 L179.8,134.18 L180.8,133.03 L181.8,131.91 L182.8,130.81 L183.8,129.72 L184.8,128.66 L185.8,127.63 L186.8,126.61 L187.8,125.62 L188.8,124.65 L189.8,123.71 L190.8,122.79 L191.8,121.9 L192.8,121.02 L193.8,120.18 L194.8,119.36 L195.8,118.56 L196.8,117.79 L197.8,117.05 L198.8,116.33 L199.8,115.63 L200.8,114.96 L201.8,114.32 L202.8,113.7 L203.8,113.11 L204.8,112.54 L205.8,112 L206.8,111.48 L207.8,110.99 L208.8,110.52 L209.8,110.08 L210.8,109.66 L211.8,109.26 L212.8,108.89 L213.8,108.55 L214.8,108.22 L215.8,107.92 L216.8,107.64 L217.8,107.39 L218.8,107.15 L219.8,106.94 L220.8,106.75 L221.8,106.58 L222.8,106.43 L223.8,106.3 L224.8,106.18 L225.8,106.09 L226.8,106.01 L227.8,105.95 L228.8,105.91 L229.8,105.89 L230.8,105.87 L231.8,105.88 L232.8,105.89 L233.8,105.92 L234.8,105.96 L235.8,106.02 L236.8,106.08 L237.5,106.13"/>
<path stroke="#bb3ea6" d="M132.5,204.79 L133.5,203.63 L134.5,202.46 L135.5,201.28 L136.5,200.09 L137.5,198.89 L138.5,197.69 L139.5,196.47 L140.5,195.25 L141.5,194.03 L142.5,192.8 L143.5,191.56 L144.5,190.32 L145.5,189.08 L146.5,187.83 L147.5,186.58 L148.5,185.33 L149.5,184.08 L150.5,182.82 L151.5,181.57 L152.5,180.32 L153.5,179.07 L154.5,177.81 L155.5,176.57 L156.5,175.32 L157.5,174.08 L158.5,172.84 L159.5,171.6 L160.5,170.37 L161.5,169.14 L162.5,167.92 L163.5,166.71 L164.5,165.5 L165.5,164.3 L166.5,163.11 L167.5,161.93 L168.5,160.75 L169.5,159.58 L170.5,158.43 L171.5,157.28 L172.5,156.14 L173.5,155.02 L174.5,153.9 L175.5,152.8 L176.5,151.71 L177.5,150.63 L178.5,149.57 L179.5,148.51 L180.5,147.48 L181.5,146.45 L182.5,145.44 L183.5,144.45 L184.5,143.47 L185.5,142.51 L186.5,141.56 L187.5,140.63 L188.5,139.72 L189.5,138.83 L190.5,137.95 L191.5,137.09 L192.5,136.25 L193.5,135.43 L194.5,134.62 L195.5,133.84 L196.5,133.08 L197.5,132.33 L198.5,131.61 L199.5,130.9 L200.5,130.22 L201.5,129.56 L202.5,128.92 L203.5,128.31 L204.5,127.71 L205.5,127.14 L206.5,126.59 L207.5,126.06 L208.5,125.56 L209.5,125.08 L210.5,124.62 L211.5,124.19 L212.5,123.78 L213.5,123.4 L214.5,123.04 L215.5,122.71 L216.5,122.4 L217.5,122.12 L218.5,121.86 L219.5,121.63 L220.5,121.42 L221.5,121.24 L222.5,121.09 L223.5,120.96 L224.5,120.86 L225.5,120.79 L226.5,120.74 L227.5,120.73 L228.5,120.74 L229.5,120.77 L230.5,120.84 L231.5,120.93 L232.5,121.05 L233.5,121.2 L234.5,121.38 L235.5,121.58 L236.5,121.82"/>
<path stroke="#f0e01e" d="M137.5,205.06 L138.5,204.02 L139.5,202.97 L140.5,201.9 L141.5,200.82 L142.5,199.73 L143.5,198.62 L144.5,197.51 L145.5,196.39 L146.5,195.26 L147.5,194.12 L148.5,192.98 L149.5,191.83 L150.5,190.68 L151.5,189.53 L152.5,188.38 L153.5,187.22 L154.5,186.06 L155.5,184.91 L156.5,183.75 L157.5,182.6 L158.5,181.46 L159.5,180.31 L160.5,179.17 L161.5,178.04 L162.5,176.91 L163.5,175.79 L164.5,174.68 L165.5,173.57 L166.5,172.48 L167.5,171.39 L168.5,170.32 L169.5,169.25 L170.5,168.2 L171.5,167.16 L172.5,166.13 L173.5,165.11 L174.5,164.11 L175.5,163.12 L176.5,162.15 L177.5,161.19 L178.5,160.25 L179.5,159.32 L180.5,158.41 L181.5,157.52 L182.5,156.64 L183.5,155.78 L184.5,154.94 L185.5,154.12 L186.5,153.31 L187.5,152.52 L188.5,151.75 L189.5,151 L190.5,150.27 L191.5,149.56 L192.5,148.87 L193.5,148.2 L194.5,147.54 L195.5,146.91 L196.5,146.3 L197.5,145.7 L198.5,145.13 L199.5,144.58 L200.5,144.05 L201.5,143.53 L202.5,143.04 L203.5,142.57 L204.5,142.11 L205.5,141.68 L206.5,141.27 L207.5,140.87 L208.5,140.5 L209.5,140.15 L210.5,139.81 L211.5,139.49 L212.5,139.2 L213.5,138.92 L214.5,138.65 L215.5,138.41 L216.5,138.19 L217.5,137.98 L218.5,137.79 L219.5,137.61 L220.5,137.45 L221.5,137.31 L222.5,137.19 L223.5,137.07 L224.5,136.98 L225.5,136.89 L226.5,136.83 L227.5,136.77 L228.5,136.73 L229.5,136.7 L230.5,136.68 L231.5,136.67 L232.5,136.67 L233.5,136.68 L234,136.69"/>
<path stroke="#86863c" d="M145.5,204.99 L146.5,204 L147.5,203 L148.5,201.99 L149.5,200.97 L150.5,199.95 L151.5,198.93 L152.5,197.9 L153.5,196.87 L154.5,195.83 L155.5,194.8 L156.5,193.77 L157.5,192.73 L158.5,191.7 L159.5,190.67 L160.5,189.64 L161.5,188.61 L162.5,187.59 L163.5,186.57 L164.5,185.56 L165.5,184.56 L166.5,183.56 L167.5,182.56 L168.5,181.58 L169.5,180.6 L170.5,179.64 L171.5,178.68 L172.5,177.73 L173.5,176.8 L174.5,175.87 L175.5,174.96 L176.5,174.06 L177.5,173.17 L178.5,172.29 L179.5,171.43 L180.5,170.58 L181.5,169.74 L182.5,168.92 L183.5,168.12 L184.5,167.33 L185.5,166.55 L186.5,165.8 L187.5,165.05 L188.5,164.33 L189.5,163.62 L190.5,162.93 L191.5,162.26 L192.5,161.6 L193.5,160.96 L194.5,160.34 L195.5,159.74 L196.5,159.16 L197.5,158.6 L198.5,158.05 L199.5,157.53 L200.5,157.02 L201.5,156.53 L202.5,156.06 L203.5,155.61 L204.5,155.18 L205.5,154.77 L206.5,154.38 L207.5,154.01 L208.5,153.66 L209.5,153.33 L210.5,153.02 L211.5,152.72 L212.5,152.45 L213.5,152.2 L214.5,151.96 L215.5,151.75 L216.5,151.55 L217.5,151.37 L218.5,151.21 L219.5,151.07 L220.5,150.95 L221.5,150.85 L222.5,150.76 L223.5,150.69 L224.5,150.64 L225.5,150.61 L226.5,150.59 L227.5,150.59 L228.5,150.61 L229.5,150.64 L230.5,150.69 L231.2,150.73"/>
<path stroke="#2c2c98" d="M150.5,205.02 L151.5,204.57 L152.5,204.09 L153.5,203.56 L154.5,203 L155.5,202.4 L156.5,201.77 L157.5,201.11 L158.5,200.42 L159.5,199.7 L160.5,198.96 L161.5,198.2 L162.5,197.42 L163.5,196.62 L164.5,195.8 L165.5,194.97 L166.5,194.13 L167.5,193.28 L168.5,192.42 L169.5,191.55 L170.5,190.68 L171.5,189.8 L172.5,188.92 L173.5,188.05 L174.5,187.17 L175.5,186.3 L176.5,185.43 L177.5,184.56 L178.5,183.7 L179.5,182.86 L180.5,182.02 L181.5,181.19 L182.5,180.37 L183.5,179.57 L184.5,178.78 L185.5,178 L186.5,177.25 L187.5,176.51 L188.5,175.79 L189.5,175.08 L190.5,174.4 L191.5,173.74 L192.5,173.1 L193.5,172.48 L194.5,171.89 L195.5,171.31 L196.5,170.77 L197.5,170.25 L198.5,169.75 L199.5,169.28 L200.5,168.83 L201.5,168.42 L202.5,168.03 L203.5,167.66 L204.5,167.33 L205.5,167.02 L206.5,166.74 L207.5,166.49 L208.5,166.26 L209.5,166.07 L210.5,165.9 L211.5,165.76 L212.5,165.65 L213.5,165.57 L214.5,165.52 L215.5,165.49 L216.5,165.49 L217.5,165.52 L218.5,165.58 L219.5,165.66 L220.5,165.77 L221.5,165.9 L222.5,166.06 L223.5,166.24 L224.5,166.45 L225.5,166.68 L226.5,166.94 L227.5,167.22 L228,167.36"/>
<path stroke="#7a2a98" d="M160.8,205.02 L161.8,204.6 L162.8,204.14 L163.8,203.63 L164.8,203.09 L165.8,202.51 L166.8,201.9 L167.8,201.26 L168.8,200.6 L169.8,199.91 L170.8,199.21 L171.8,198.49 L172.8,197.76 L173.8,197.02 L174.8,196.27 L175.8,195.51 L176.8,194.76 L177.8,194 L178.8,193.24 L179.8,192.49 L180.8,191.75 L181.8,191.01 L182.8,190.28 L183.8,189.57 L184.8,188.87 L185.8,188.18 L186.8,187.51 L187.8,186.85 L188.8,186.22 L189.8,185.6 L190.8,185.01 L191.8,184.44 L192.8,183.88 L193.8,183.36 L194.8,182.85 L195.8,182.37 L196.8,181.92 L197.8,181.49 L198.8,181.08 L199.8,180.7 L200.8,180.34 L201.8,180.01 L202.8,179.71 L203.8,179.43 L204.8,179.17 L205.8,178.93 L206.8,178.72 L207.8,178.53 L208.8,178.37 L209.8,178.22 L210.8,178.09 L211.8,177.98 L212.8,177.89 L213.8,177.81 L214.8,177.74 L215.8,177.69 L216.8,177.65 L217.8,177.62 L218.8,177.59 L219.8,177.57 L220,177.57"/>
</g>
<text x="247.1" y="40.2" font-size="9" fill="#111111" stroke="#111111" stroke-width="0.2">15<tspan font-size="5.8" dy="-4.6">0</tspan><tspan dy="4.6">C</tspan></text>
<text x="246.4" y="58.4" font-size="9" fill="#f0302a" stroke="#f0302a" stroke-width="0.2">25<tspan font-size="5.8" dy="-4.6">0</tspan><tspan dy="4.6">C</tspan></text>
<text x="245.6" y="77" font-size="9" fill="#58b848" stroke="#58b848" stroke-width="0.2">35<tspan font-size="5.8" dy="-4.6">0</tspan><tspan dy="4.6">C</tspan></text>
<text x="244.7" y="93.9" font-size="9" fill="#3a4cb0" stroke="#3a4cb0" stroke-width="0.2">45<tspan font-size="5.8" dy="-4.6">0</tspan><tspan dy="4.6">C</tspan></text>
<text x="245.1" y="110.6" font-size="9" fill="#58c4dc" stroke="#58c4dc" stroke-width="0.2">55<tspan font-size="5.8" dy="-4.6">0</tspan><tspan dy="4.6">C</tspan></text>
<text x="243.8" y="125.6" font-size="9" fill="#c04aa8" stroke="#c04aa8" stroke-width="0.2">65<tspan font-size="5.8" dy="-4.6">0</tspan><tspan dy="4.6">C</tspan></text>
<text x="242.3" y="142.5" font-size="9" fill="#eedc2a" stroke="#eedc2a" stroke-width="0.2">75<tspan font-size="5.8" dy="-4.6">0</tspan><tspan dy="4.6">C</tspan></text>
<text x="239.6" y="156.2" font-size="9" fill="#86864a" stroke="#86864a" stroke-width="0.2">85<tspan font-size="5.8" dy="-4.6">0</tspan><tspan dy="4.6">C</tspan></text>
<text x="237.9" y="169.4" font-size="9" fill="#38389a" stroke="#38389a" stroke-width="0.2">95<tspan font-size="5.8" dy="-4.6">0</tspan><tspan dy="4.6">C</tspan></text>
<text x="232.3" y="183.7" font-size="9" fill="#80409c" stroke="#80409c" stroke-width="0.2">105<tspan font-size="5.8" dy="-4.6">0</tspan><tspan dy="4.6">C</tspan></text>
<g fill="none" stroke="#1a1a1a" stroke-width="1.1"><rect x="29.6" y="8.8" width="241.6" height="196.2"/><path d="M53.76,205 L53.76,202.8 M53.76,8.8 L53.76,11 M77.92,205 L77.92,201 M77.92,8.8 L77.92,12.8 M102.08,205 L102.08,202.8 M102.08,8.8 L102.08,11 M126.24,205 L126.24,201 M126.24,8.8 L126.24,12.8 M150.4,205 L150.4,202.8 M150.4,8.8 L150.4,11 M174.56,205 L174.56,201 M174.56,8.8 L174.56,12.8 M198.72,205 L198.72,202.8 M198.72,8.8 L198.72,11 M222.88,205 L222.88,201 M222.88,8.8 L222.88,12.8 M247.04,205 L247.04,202.8 M247.04,8.8 L247.04,11 M29.6,189.91 L31.8,189.91 M29.6,174.82 L33.6,174.82 M29.6,159.72 L31.8,159.72 M29.6,144.63 L33.6,144.63 M29.6,129.54 L31.8,129.54 M29.6,114.45 L33.6,114.45 M29.6,99.35 L31.8,99.35 M29.6,84.26 L33.6,84.26 M29.6,69.17 L31.8,69.17 M29.6,54.08 L33.6,54.08 M29.6,38.98 L31.8,38.98 M29.6,23.89 L33.6,23.89 M271.2,185.38 L269,185.38 M271.2,165.76 L267.2,165.76 M271.2,146.14 L269,146.14 M271.2,126.52 L267.2,126.52 M271.2,106.9 L269,106.9 M271.2,87.28 L267.2,87.28 M271.2,67.66 L269,67.66 M271.2,48.04 L267.2,48.04 M271.2,28.42 L269,28.42"/></g>
<g font-size="9.2" fill="#222" stroke="#222" stroke-width="0.2">
<text x="29.7" y="456" text-anchor="middle">0.0</text>
<text x="70.32" y="456" text-anchor="middle">0.5</text>
<text x="110.93" y="456" text-anchor="middle">1.0</text>
<text x="151.55" y="456" text-anchor="middle">1.5</text>
<text x="192.17" y="456" text-anchor="middle">2.0</text>
<text x="232.78" y="456" text-anchor="middle">2.5</text>
<text x="273.4" y="456" text-anchor="middle">3.0</text>
<text x="26" y="447.3" text-anchor="end">0</text>
<text x="26" y="408.28" text-anchor="end">2</text>
<text x="26" y="369.26" text-anchor="end">4</text>
<text x="26" y="330.24" text-anchor="end">6</text>
<text x="26" y="291.22" text-anchor="end">8</text>
<text x="26" y="252.2" text-anchor="end">10</text>
<text x="277.2" y="446.7">0</text>
<text x="277.2" y="403.34">50</text>
<text x="277.2" y="359.99">100</text>
<text x="277.2" y="316.63">150</text>
<text x="277.2" y="273.28">200</text>
</g>
<text x="151.8" y="472.4" font-size="12" text-anchor="middle" fill="#111" stroke="#111" stroke-width="0.2">Input electrical power (W)</text>
<text transform="translate(11.2,348.1) rotate(-90)" font-size="12.6" text-anchor="middle" fill="#111" stroke="#111" stroke-width="0.2">Wall plug efficiency (%)</text>
<text transform="translate(308,346.9) rotate(-90)" font-size="12" text-anchor="middle" fill="#111" stroke="#111" stroke-width="0.2">Output optical power (mW)</text>
<text x="41" y="272.7" font-size="17" fill="#111" stroke="#111" stroke-width="0.2">(b)</text>
<rect x="78.6" y="264.6" width="43" height="14.6" fill="#111"/>
<rect x="75.8" y="261.8" width="43.2" height="14.6" fill="#fff" stroke="#222" stroke-width="0.9"/>
<text x="78.6" y="273" font-size="9.6" fill="#111" stroke="#111" stroke-width="0.2">T = 25<tspan font-size="6" dy="-3.8">o</tspan><tspan dy="3.8">C</tspan></text>
<text x="41.4" y="384.3" font-size="9.4" fill="#111" stroke="#111" stroke-width="0.2">4.6 μm QCL</text>
<text x="41.4" y="395.6" font-size="9.4" fill="#111" stroke="#111" stroke-width="0.2">cw operation</text>
<text x="41.4" y="406.9" font-size="9.4" fill="#111" stroke="#111" stroke-width="0.2">L = 1 mm</text>
<text x="41.4" y="418.2" font-size="9.4" fill="#111" stroke="#111" stroke-width="0.2">W = 6 μm</text>
<text x="41.4" y="429.5" font-size="9.4" fill="#111" stroke="#111" stroke-width="0.2">HR-PHR</text>
<path d="M125.5,322.5 L82.5,322.5" stroke="#f04038" stroke-width="0.75"/>
<path d="M79.3,322.5 L83.8,320.9 L83.8,324.1 Z" fill="#f03028"/>
<path fill="none" stroke="#f03028" stroke-width="1.4" d="M97,443.9 L97.5,441.61 L98,439.32 L98.5,437.03 L99,434.74 L99.5,432.45 L100,430.17 L100.5,427.89 L101,425.61 L101.5,423.33 L102,421.06 L102.5,418.79 L103,416.53 L103.5,414.27 L104,412.02 L104.5,409.77 L105,407.54 L105.5,405.33 L106,403.12 L106.5,400.94 L107,398.77 L107.5,396.62 L108,394.5 L108.5,392.4 L109,390.32 L109.5,388.27 L110,386.25 L110.5,384.25 L111,382.28 L111.5,380.34 L112,378.42 L112.5,376.53 L113,374.67 L113.5,372.84 L114,371.03 L114.5,369.25 L115,367.5 L115.5,365.78 L116,364.09 L116.5,362.42 L117,360.78 L117.5,359.18 L118,357.6 L118.5,356.05 L119,354.54 L119.5,353.05 L120,351.59 L120.5,350.15 L121,348.75 L121.5,347.36 L122,346.01 L122.5,344.67 L123,343.36 L123.5,342.07 L124,340.8 L124.5,339.55 L125,338.31 L125.5,337.09 L126,335.89 L126.5,334.7 L127,333.52 L127.5,332.35 L128,331.2 L128.5,330.05 L129,328.91 L129.5,327.77 L130,326.64 L130.5,325.53 L131,324.42 L131.5,323.32 L132,322.23 L132.5,321.15 L133,320.09 L133.5,319.04 L134,318.01 L134.5,316.99 L135,315.99 L135.5,315 L136,314.04 L136.5,313.09 L137,312.16 L137.5,311.25 L138,310.37 L138.5,309.5 L139,308.65 L139.5,307.82 L140,307 L140.5,306.21 L141,305.43 L141.5,304.66 L142,303.91 L142.5,303.18 L143,302.46 L143.5,301.75 L144,301.05 L144.5,300.37 L145,299.69 L145.5,299.03 L146,298.37 L146.5,297.73 L147,297.09 L147.5,296.47 L148,295.86 L148.5,295.27 L149,294.68 L149.5,294.12 L150,293.56 L150.5,293.02 L151,292.49 L151.5,291.98 L152,291.49 L152.5,291 L153,290.53 L153.5,290.08 L154,289.63 L154.5,289.2 L155,288.77 L155.5,288.36 L156,287.96 L156.5,287.57 L157,287.19 L157.5,286.81 L158,286.45 L158.5,286.09 L159,285.74 L159.5,285.4 L160,285.07 L160.5,284.74 L161,284.42 L161.5,284.1 L162,283.8 L162.5,283.5 L163,283.2 L163.5,282.91 L164,282.63 L164.5,282.36 L165,282.09 L165.5,281.83 L166,281.57 L166.5,281.32 L167,281.07 L167.5,280.83 L168,280.59 L168.5,280.36 L169,280.14 L169.5,279.92 L170,279.7 L170.5,279.5 L171,279.29 L171.5,279.09 L172,278.9 L172.5,278.71 L173,278.52 L173.5,278.34 L174,278.17 L174.5,278 L175,277.84 L175.5,277.68 L176,277.53 L176.5,277.38 L177,277.24 L177.5,277.1 L178,276.97 L178.5,276.85 L179,276.73 L179.5,276.62 L180,276.51 L180.5,276.41 L181,276.31 L181.5,276.22 L182,276.14 L182.5,276.06 L183,275.99 L183.5,275.92 L184,275.86 L184.5,275.8 L185,275.75 L185.5,275.71 L186,275.67 L186.5,275.64 L187,275.62 L187.5,275.6 L188,275.58 L188.5,275.57 L189,275.57 L189.5,275.57 L190,275.58 L190.5,275.6 L191,275.62 L191.5,275.64 L192,275.68 L192.5,275.71 L193,275.76 L193.5,275.81 L194,275.87 L194.5,275.93 L195,276 L195.5,276.08 L196,276.17 L196.5,276.26 L197,276.35 L197.5,276.46 L198,276.57 L198.5,276.69 L199,276.81 L199.5,276.95 L200,277.09 L200.5,277.24 L201,277.39 L201.5,277.55 L202,277.72 L202.5,277.89 L203,278.08 L203.5,278.26 L204,278.45 L204.5,278.65 L205,278.85 L205.5,279.06 L206,279.27 L206.5,279.48 L207,279.7 L207.5,279.92 L208,280.15 L208.5,280.37 L209,280.6 L209.5,280.83 L210,281.07 L210.5,281.3 L211,281.54 L211.5,281.78 L212,282.02 L212.5,282.27 L213,282.52 L213.5,282.77 L214,283.02 L214.5,283.28 L215,283.54 L215.5,283.81 L216,284.08 L216.5,284.36 L217,284.64 L217.5,284.93 L218,285.22 L218.5,285.52 L219,285.82 L219.5,286.13 L220,286.45 L220.5,286.78 L221,287.11 L221.5,287.44 L222,287.79 L222.5,288.14 L223,288.49 L223.5,288.85 L224,289.21 L224.5,289.58 L225,289.95 L225.5,290.32 L226,290.7 L226.5,291.08 L227,291.46 L227.5,291.84 L228,292.22 L228.5,292.61 L229,292.99 L229.5,293.38 L230,293.76 L230.5,294.15 L231,294.54 L231.5,294.92 L232,295.3 L232.5,295.68 L233,296.06 L233.5,296.44 L234,296.82 L234.5,297.19 L235,297.56 L235.5,297.93 L236,298.3 L236.5,298.66 L237,299.02 L237.5,299.37 L238,299.72 L238.5,300.07 L239,300.41 L239.5,300.75 L240,301.09 L240.5,301.42 L241,301.74 L241.5,302.06 L242,302.38 L242.5,302.69 L243,303 L243.5,303.3 L244,303.6 L244.5,303.9 L245,304.2 L245.5,304.49 L246,304.78 L246.5,305.07 L247,305.36 L247.5,305.64 L248,305.93 L248.5,306.21 L249,306.49 L249.5,306.78 L250,307.06"/>
<path fill="none" stroke="#111" stroke-width="1.6" d="M97,444.03 L97.5,443.08 L98,442.13 L98.5,441.18 L99,440.23 L99.5,439.28 L100,438.33 L100.5,437.38 L101,436.43 L101.5,435.47 L102,434.52 L102.5,433.57 L103,432.61 L103.5,431.65 L104,430.7 L104.5,429.74 L105,428.78 L105.5,427.82 L106,426.86 L106.5,425.9 L107,424.93 L107.5,423.97 L108,423 L108.5,422.03 L109,421.06 L109.5,420.09 L110,419.12 L110.5,418.14 L111,417.16 L111.5,416.18 L112,415.2 L112.5,414.22 L113,413.24 L113.5,412.25 L114,411.26 L114.5,410.27 L115,409.28 L115.5,408.29 L116,407.29 L116.5,406.3 L117,405.3 L117.5,404.3 L118,403.3 L118.5,402.3 L119,401.29 L119.5,400.29 L120,399.28 L120.5,398.28 L121,397.27 L121.5,396.26 L122,395.25 L122.5,394.24 L123,393.22 L123.5,392.21 L124,391.2 L124.5,390.18 L125,389.17 L125.5,388.15 L126,387.14 L126.5,386.13 L127,385.12 L127.5,384.12 L128,383.12 L128.5,382.12 L129,381.13 L129.5,380.15 L130,379.17 L130.5,378.2 L131,377.24 L131.5,376.28 L132,375.34 L132.5,374.41 L133,373.48 L133.5,372.56 L134,371.66 L134.5,370.75 L135,369.86 L135.5,368.98 L136,368.1 L136.5,367.22 L137,366.36 L137.5,365.49 L138,364.64 L138.5,363.78 L139,362.93 L139.5,362.09 L140,361.25 L140.5,360.41 L141,359.57 L141.5,358.73 L142,357.9 L142.5,357.06 L143,356.23 L143.5,355.4 L144,354.56 L144.5,353.73 L145,352.89 L145.5,352.05 L146,351.22 L146.5,350.38 L147,349.55 L147.5,348.72 L148,347.89 L148.5,347.07 L149,346.24 L149.5,345.42 L150,344.61 L150.5,343.8 L151,342.99 L151.5,342.19 L152,341.4 L152.5,340.61 L153,339.83 L153.5,339.06 L154,338.3 L154.5,337.54 L155,336.79 L155.5,336.05 L156,335.33 L156.5,334.61 L157,333.9 L157.5,333.2 L158,332.5 L158.5,331.82 L159,331.14 L159.5,330.47 L160,329.81 L160.5,329.16 L161,328.51 L161.5,327.87 L162,327.23 L162.5,326.61 L163,325.98 L163.5,325.37 L164,324.76 L164.5,324.15 L165,323.55 L165.5,322.95 L166,322.36 L166.5,321.77 L167,321.18 L167.5,320.6 L168,320.02 L168.5,319.44 L169,318.86 L169.5,318.29 L170,317.71 L170.5,317.14 L171,316.56 L171.5,315.99 L172,315.41 L172.5,314.84 L173,314.27 L173.5,313.7 L174,313.14 L174.5,312.57 L175,312.01 L175.5,311.45 L176,310.9 L176.5,310.35 L177,309.8 L177.5,309.26 L178,308.73 L178.5,308.2 L179,307.68 L179.5,307.16 L180,306.65 L180.5,306.15 L181,305.65 L181.5,305.16 L182,304.68 L182.5,304.21 L183,303.75 L183.5,303.29 L184,302.83 L184.5,302.38 L185,301.94 L185.5,301.5 L186,301.07 L186.5,300.64 L187,300.21 L187.5,299.78 L188,299.36 L188.5,298.94 L189,298.52 L189.5,298.1 L190,297.68 L190.5,297.26 L191,296.84 L191.5,296.42 L192,296 L192.5,295.58 L193,295.16 L193.5,294.75 L194,294.33 L194.5,293.91 L195,293.5 L195.5,293.09 L196,292.68 L196.5,292.27 L197,291.86 L197.5,291.46 L198,291.06 L198.5,290.66 L199,290.27 L199.5,289.87 L200,289.48 L200.5,289.1 L201,288.72 L201.5,288.34 L202,287.97 L202.5,287.6 L203,287.24 L203.5,286.88 L204,286.52 L204.5,286.17 L205,285.83 L205.5,285.49 L206,285.16 L206.5,284.84 L207,284.52 L207.5,284.21 L208,283.9 L208.5,283.6 L209,283.31 L209.5,283.03 L210,282.75 L210.5,282.49 L211,282.23 L211.5,281.98 L212,281.73 L212.5,281.5 L213,281.27 L213.5,281.05 L214,280.83 L214.5,280.63 L215,280.43 L215.5,280.24 L216,280.05 L216.5,279.87 L217,279.7 L217.5,279.53 L218,279.38 L218.5,279.22 L219,279.08 L219.5,278.94 L220,278.8 L220.5,278.68 L221,278.55 L221.5,278.44 L222,278.33 L222.5,278.22 L223,278.13 L223.5,278.03 L224,277.94 L224.5,277.86 L225,277.78 L225.5,277.71 L226,277.64 L226.5,277.58 L227,277.52 L227.5,277.46 L228,277.41 L228.5,277.37 L229,277.33 L229.5,277.29 L230,277.26 L230.5,277.23 L231,277.2 L231.5,277.18 L232,277.16 L232.5,277.15 L233,277.14 L233.5,277.13 L234,277.13 L234.5,277.13 L235,277.13 L235.5,277.14 L236,277.15 L236.5,277.17 L237,277.19 L237.5,277.21 L238,277.24 L238.5,277.27 L239,277.3 L239.5,277.34 L240,277.38 L240.5,277.42 L241,277.47 L241.5,277.52 L242,277.58 L242.5,277.63 L243,277.69 L243.5,277.76 L244,277.82 L244.5,277.89 L245,277.96 L245.5,278.03 L246,278.1 L246.5,278.17 L247,278.25 L247.5,278.32 L248,278.4 L248.5,278.48 L249,278.56 L249.5,278.64 L250,278.71"/>
<g stroke="#1a1a1a" stroke-width="1.1" fill="none">
<path d="M159.7,409.8 L248.8,409.8" stroke-width="1.4"/>
<path d="M165.9,409.8 L165.9,411.6 M181.25,409.8 L181.25,412.2 M196.4,409.8 L196.4,411.6 M211.6,409.8 L211.6,412.2 M226.9,409.8 L226.9,411.6 M242.3,409.8 L242.3,412.2"/>
</g>
<g font-size="9.6" fill="#222" text-anchor="middle" stroke="#222" stroke-width="0.2">
<text x="182.3" y="420.8">4.5</text>
<text x="212.2" y="420.8">4.6</text>
<text x="242.4" y="420.8">4.7</text>
</g>
<text x="208.5" y="431" font-size="10" text-anchor="middle" fill="#111" stroke="#111" stroke-width="0.2">Wavelength (μm)</text>
<path fill="none" stroke="#3f52b4" stroke-width="1.05" stroke-linejoin="round" d="M160.2,401.9 L175,401.9 L185,401.8 L188,401.5 L190,401.2 L191.3,400.4 L192.2,400.8 L193,399.6 L193.8,400.2 L194.5,398.6 L195.3,399.4 L196,398.2 L196.6,396.5 L197.1,392.2 L197.6,393.5 L198.1,396.8 L198.6,393.8 L199.1,397 L199.6,399.6 L200.5,400.6 L201.3,399.8 L202,400.6 L202.8,399.6 L203.6,400.6 L204.1,400.8 L204.3,318.6 L204.7,318.6 L204.9,400.8 L205.6,399.8 L206.4,400.6 L207.2,399.4 L208,400.4 L208.8,399.6 L209.6,400.5 L210.3,398.5 L210.9,394.4 L211.4,395 L211.9,399 L212.5,400.8 L213.5,401.4 L215,401.2 L216,401.7 L220,401.8 L248,401.9"/>
<g fill="none" stroke="#1a1a1a" stroke-width="1.1"><rect x="29.7" y="249" width="243.7" height="195.1"/><path d="M50.01,444.1 L50.01,441.9 M50.01,249 L50.01,251.2 M70.32,444.1 L70.32,440.1 M70.32,249 L70.32,253 M90.62,444.1 L90.62,441.9 M90.62,249 L90.62,251.2 M110.93,444.1 L110.93,440.1 M110.93,249 L110.93,253 M131.24,444.1 L131.24,441.9 M131.24,249 L131.24,251.2 M151.55,444.1 L151.55,440.1 M151.55,249 L151.55,253 M171.86,444.1 L171.86,441.9 M171.86,249 L171.86,251.2 M192.17,444.1 L192.17,440.1 M192.17,249 L192.17,253 M212.47,444.1 L212.47,441.9 M212.47,249 L212.47,251.2 M232.78,444.1 L232.78,440.1 M232.78,249 L232.78,253 M253.09,444.1 L253.09,441.9 M253.09,249 L253.09,251.2 M29.7,424.59 L31.9,424.59 M29.7,405.08 L33.7,405.08 M29.7,385.57 L31.9,385.57 M29.7,366.06 L33.7,366.06 M29.7,346.55 L31.9,346.55 M29.7,327.04 L33.7,327.04 M29.7,307.53 L31.9,307.53 M29.7,288.02 L33.7,288.02 M29.7,268.51 L31.9,268.51 M273.4,422.42 L271.2,422.42 M273.4,400.74 L269.4,400.74 M273.4,379.07 L271.2,379.07 M273.4,357.39 L269.4,357.39 M273.4,335.71 L271.2,335.71 M273.4,314.03 L269.4,314.03 M273.4,292.36 L271.2,292.36 M273.4,270.68 L269.4,270.68"/></g>
</svg></body></html>
